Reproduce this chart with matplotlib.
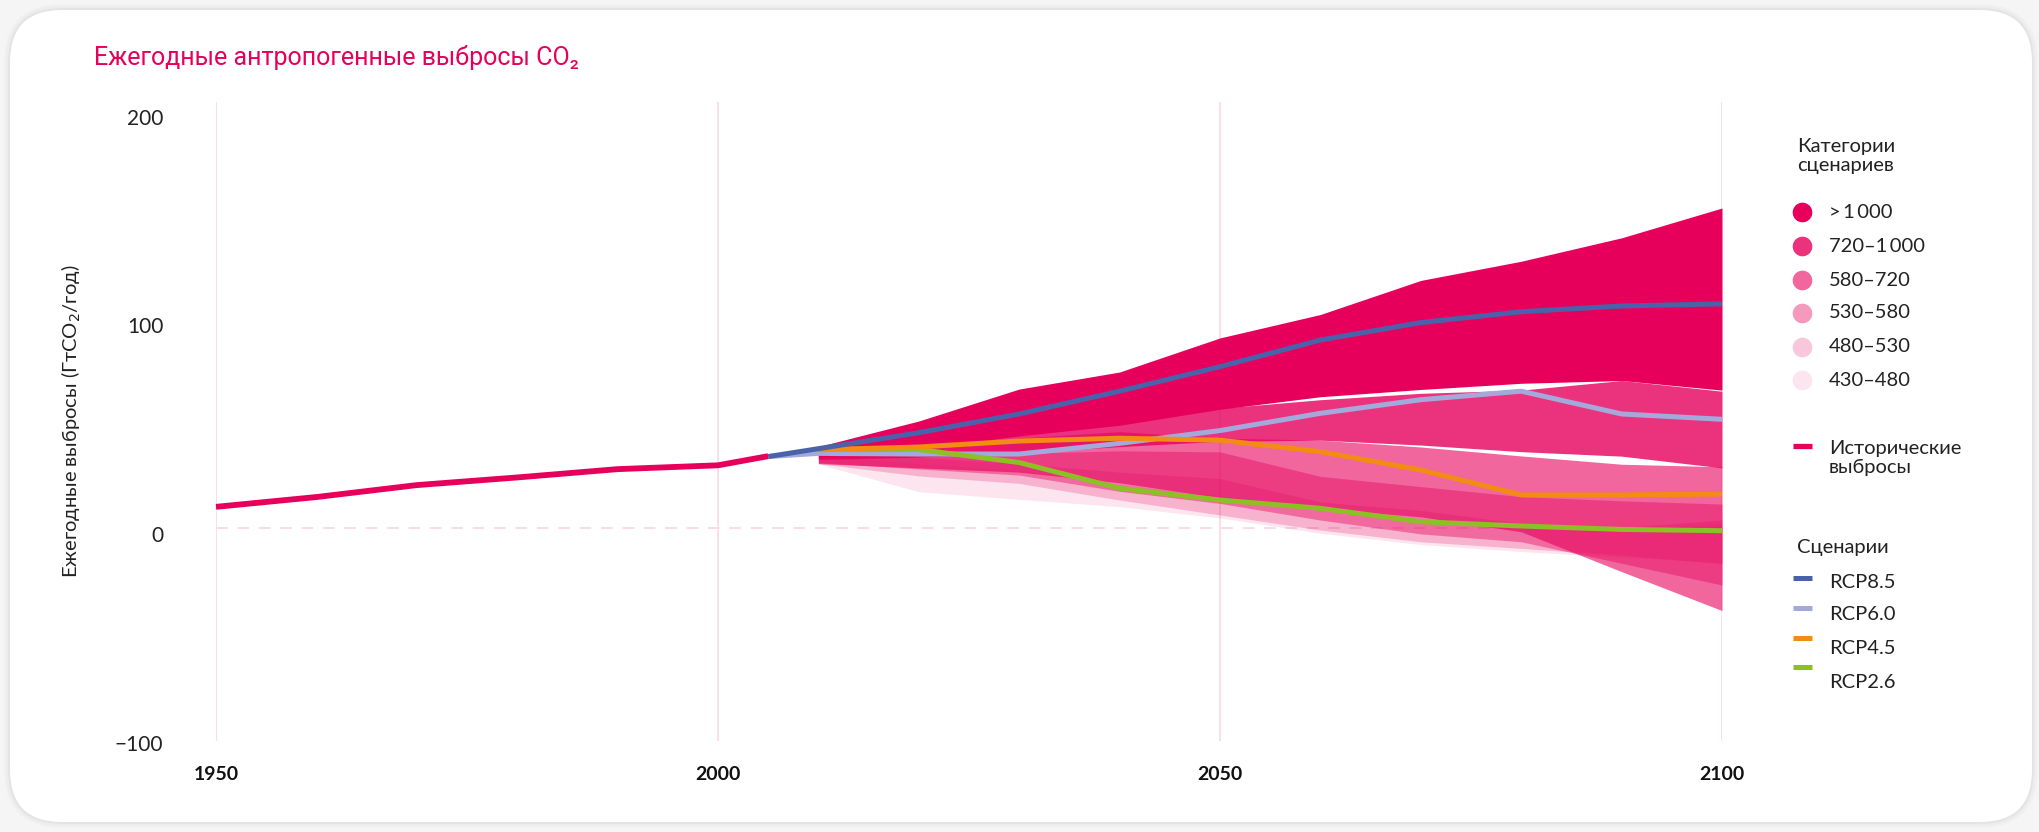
import matplotlib
matplotlib.use("Agg")
import matplotlib.pyplot as plt
from matplotlib.patches import FancyBboxPatch
from matplotlib.transforms import IdentityTransform, ScaledTranslation

plt.rcParams['font.family'] = ['Lato', 'Noto Sans', 'DejaVu Sans']

# ---------------- data ----------------
hist_years = [1950, 1960, 1970, 1980, 1990, 2000, 2005]
hist_values = [9.7, 14.3, 19.9, 23.5, 27.4, 29.2, 33.5]

rcp_years_long = [2005, 2010, 2020, 2030, 2040, 2050, 2060, 2070, 2080, 2090, 2100]
rcp85 = [33.3, 37.0, 44.5, 53.3, 64.0, 75.5, 88.0, 96.2, 101.3, 104.0, 105.0]
rcp60 = [33.3, 34.8, 34.5, 34.5, 39.5, 45.5, 53.6, 60.0, 64.0, 53.3, 50.8]

rcp_years_short = [2010, 2020, 2030, 2040, 2050, 2060, 2070, 2080, 2090, 2100]
rcp45 = [36.5, 37.8, 40.6, 41.9, 41.0, 35.6, 27.0, 15.3, 15.3, 15.7]
rcp26 = [36.8, 36.6, 30.5, 18.4, 12.9, 9.0, 2.7, 0.7, -0.9, -1.5]

band_years = [2010, 2020, 2030, 2040, 2050, 2060, 2070, 2080, 2090, 2100]
cat_labels = ['>\u20091\u2009000', '720\u20131\u2009000', '580\u2013720',
              '530\u2013580', '480\u2013530', '430\u2013480']
cat_alpha = [1.0, 0.8, 0.6, 0.4, 0.22, 0.1]
band_hi = [
    [38, 50, 65, 73, 89, 100, 116, 125, 136, 150],        # >1000
    [37, 40, 44, 50, 56, 60, 63, 64.5, 69, 64],           # 720-1000
    [37, 39, 42, 45, 42, 41, 37.8, 33.6, 29.7, 28.5],     # 580-720
    [36, 33, 34.8, 36, 35.5, 24, 19.2, 14.5, 12.5, 11],   # 530-580
    [35, 33, 30, 26, 23, 12, 8, 2, 0, 3.5],               # 480-530
    [34, 30, 27, 20, 15, 9, 4, 1, -1, 2],                 # 430-480
]
band_lo = [
    [33, 37, 43, 48, 55.5, 61.4, 64.8, 67.7, 69, 64.5],
    [32, 33, 35, 38, 40.5, 41, 38.7, 35.6, 33.5, 28],
    [30, 28, 26, 21, 14, 9, 5, -2, -20.7, -39],
    [30.5, 27.5, 24.6, 17, 11.3, 3.5, -3, -6.7, -16.8, -27],
    [30, 24.2, 20.7, 12.9, 5.9, -1.2, -6.7, -9.8, -13, -17],
    [29.8, 16.8, 13.2, 9.8, 4.5, -2.7, -8, -11.3, -14, -16.5],
]

xticks = [1950, 2000, 2050, 2100]
yticks = [-100, 0, 100, 200]
ytick_labels = ['\u2212100', '0', '100', '200']

PINK = '#E6005C'
C85 = '#4A62A9'
C60 = '#A3AADB'
C45 = '#F28C12'
C26 = '#8DBF26'
GRID = '#FADCE7'
TXT = '#222222'

# ---------------- figure ----------------
W, H = 2040, 832
fig = plt.figure(figsize=(W / 100, H / 100), dpi=100)
fig.patch.set_facecolor('#F5F5F5')

# card with soft shadow (drawn below the axes)
for i, a in enumerate([0.015, 0.02, 0.03]):
    g = 6 - 2 * i
    fig.patches.append(FancyBboxPatch((10 - g, 10 - g), 2022 + 2 * g, 812 + 2 * g,
                                      boxstyle="round,pad=0,rounding_size=%d" % (52 + g),
                                      transform=IdentityTransform(), facecolor='k',
                                      alpha=a, edgecolor='none', zorder=-5))
fig.patches.append(FancyBboxPatch((10, 10), 2022, 812,
                                  boxstyle="round,pad=0,rounding_size=52",
                                  transform=IdentityTransform(), facecolor='white',
                                  edgecolor='none', zorder=-4))

ax_l, ax_r = 216, 1722
ax_t, ax_b = 101.5, 740.5
ax = fig.add_axes([ax_l / W, 1 - ax_b / H, (ax_r - ax_l) / W, (ax_b - ax_t) / H])
ax.set_zorder(2)
ax.set_facecolor('none')
ax.set_xlim(1950, 2100)
ax.set_ylim(-100, 200)
for s in ax.spines.values():
    s.set_visible(False)

for xv in xticks:
    ax.axvline(xv, color=GRID, lw=1.3, zorder=0)
ax.axhline(0, color=GRID, lw=1.4, ls=(0, (6, 5)), zorder=0)

for hi, lo, a in zip(band_hi[::-1], band_lo[::-1], cat_alpha[::-1]):
    ax.fill_between(band_years, lo, hi, color=PINK, alpha=a, lw=0, zorder=2)

lw = 3.6
ax.plot(hist_years, hist_values, color=PINK, lw=4.2, solid_capstyle='butt',
        solid_joinstyle='round', zorder=5, clip_on=False)
ax.plot(rcp_years_long, rcp60, color=C60, lw=lw, solid_capstyle='butt', zorder=6)
ax.plot(rcp_years_short, rcp26, color=C26, lw=lw, solid_capstyle='butt', zorder=7)
ax.plot(rcp_years_short, rcp45, color=C45, lw=lw, solid_capstyle='butt', zorder=8)
ax.plot(rcp_years_long, rcp85, color=C85, lw=lw, solid_capstyle='butt', zorder=9)

ax.set_xticks(xticks)
ax.set_xticklabels([str(x) for x in xticks], fontsize=14, fontweight='bold', color='#111111')
ax.set_yticks(yticks)
ax.set_yticklabels(ytick_labels, fontsize=15, color=TXT)
ax.tick_params(axis='both', length=0)
ax.tick_params(axis='x', pad=18)
ax.tick_params(axis='y', pad=38)
# the reference places its y labels slightly below their grid values
label_shift_px = [2.5, 6, 11, 15.5]
for lab, d in zip(ax.get_yticklabels(), label_shift_px):
    lab.set_transform(lab.get_transform() + ScaledTranslation(0, -d / 100, fig.dpi_scale_trans))

# overlay axes for titles and legend (pixel coordinates)
ov = fig.add_axes([0, 0, 1, 1])
ov.set_xlim(0, W)
ov.set_ylim(H, 0)
ov.axis('off')
ov.set_zorder(10)

ov.text(94, 58, 'Ежегодные антропогенные выбросы CO\u2082', color=PINK, fontsize=18,
        family=['Roboto', 'DejaVu Sans'], va='center', ha='left')
ov.text(71, 421, 'Ежегодные выбросы (ГтCO$_2$/год)', rotation=90, fontsize=14.5,
        color=TXT, ha='center', va='center')

LX = 1797
ov.text(LX, 156, 'Категории\nсценариев', fontsize=14.5, color=TXT, ha='left',
        va='center', linespacing=1.15)
row_y = [212, 246, 280, 313, 347, 380]
for yy, lab, a in zip(row_y, cat_labels, cat_alpha):
    ov.scatter([1802], [yy], s=200, color=PINK, alpha=a, lw=0)
    ov.text(1829, yy, lab, fontsize=14.5, color=TXT, ha='left', va='center')

ov.plot([1793, 1812], [446, 446], color=PINK, lw=3.8, solid_capstyle='butt')
ov.text(1829, 458, 'Исторические\nвыбросы', fontsize=14.5, color=TXT, ha='left',
        va='center', linespacing=1.15)

ov.text(LX, 548, 'Сценарии', fontsize=14.5, color=TXT, ha='left', va='center')
sc_names = ['RCP8.5', 'RCP6.0', 'RCP4.5', 'RCP2.6']
sc_cols = [C85, C60, C45, C26]
dash_y = [578, 608, 638, 667]
text_y = [582, 615, 648, 682]
for dy, ty, nm, c in zip(dash_y, text_y, sc_names, sc_cols):
    ov.plot([1793, 1812], [dy, dy], color=c, lw=3.6, solid_capstyle='butt')
    ov.text(1829, ty, nm, fontsize=14.5, color=TXT, ha='left', va='center')

fig.savefig('out.png', dpi=100, facecolor=fig.get_facecolor())
